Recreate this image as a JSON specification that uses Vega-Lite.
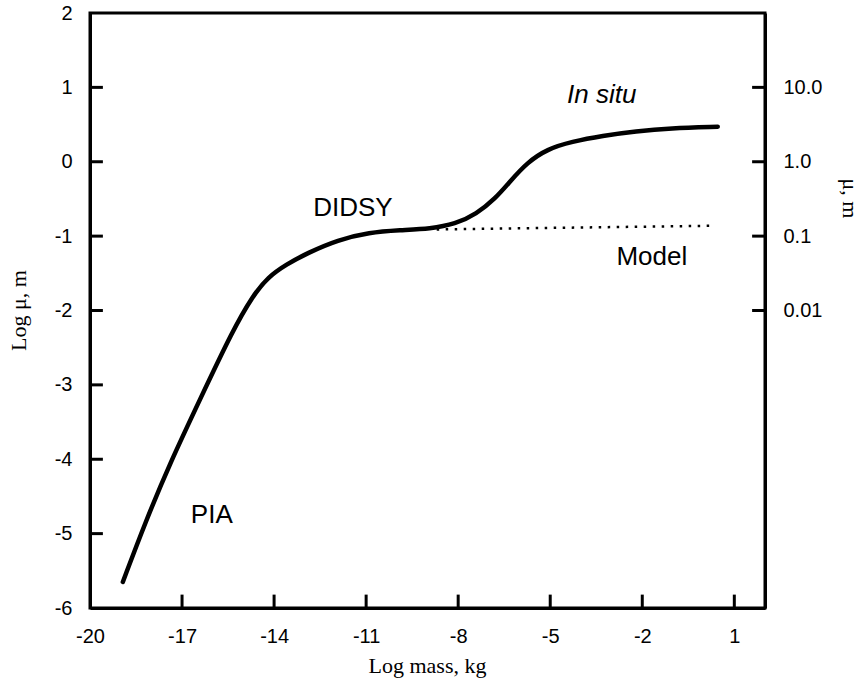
{
  "$schema": "https://vega.github.io/schema/vega-lite/v6.json",
  "autosize": "none",
  "width": 675,
  "height": 595,
  "padding": {"left": 90, "top": 13, "right": 100, "bottom": 76},
  "background": "white",
  "config": {
    "view": {"stroke": "black", "strokeWidth": 3},
    "axis": {
      "labelFont": "Liberation Sans",
      "labelFontSize": 20,
      "labelColor": "black",
      "titleFont": "Liberation Serif",
      "titleFontSize": 22,
      "titleFontWeight": "normal",
      "titleColor": "black",
      "domainColor": "black",
      "domainWidth": 3,
      "ticks": false,
      "labelPadding": 18,
      "grid": false,
      "zindex": 1,
      "labelOverlap": false,
      "labelFlush": false,
      "labelBound": false,
      "labelExpr": "'' + datum.value"
    }
  },
  "datasets": {
    "curve": [
      {"logmass": -18.93, "logmu": -5.65},
      {"logmass": -18.2, "logmu": -4.85},
      {"logmass": -17.39, "logmu": -4.05},
      {"logmass": -16.42, "logmu": -3.2},
      {"logmass": -15.34, "logmu": -2.26},
      {"logmass": -14.69, "logmu": -1.8},
      {"logmass": -14.2, "logmu": -1.55},
      {"logmass": -13.6, "logmu": -1.38},
      {"logmass": -12.93, "logmu": -1.23},
      {"logmass": -11.92, "logmu": -1.05},
      {"logmass": -10.9, "logmu": -0.95},
      {"logmass": -9.9, "logmu": -0.92},
      {"logmass": -8.9, "logmu": -0.9},
      {"logmass": -8.1, "logmu": -0.84},
      {"logmass": -7.4, "logmu": -0.7},
      {"logmass": -6.8, "logmu": -0.5},
      {"logmass": -6.3, "logmu": -0.26},
      {"logmass": -5.75, "logmu": -0.01},
      {"logmass": -5.1, "logmu": 0.17},
      {"logmass": -4.3, "logmu": 0.27},
      {"logmass": -3.3, "logmu": 0.35},
      {"logmass": -2.2, "logmu": 0.41},
      {"logmass": -1.1, "logmu": 0.45},
      {"logmass": 0.46, "logmu": 0.47}
    ],
    "model": [
      {"logmass": -8.7, "logmu": -0.91},
      {"logmass": 0.36, "logmu": -0.86}
    ],
    "labels": [
      {"logmass": -11.43, "logmu": -0.62, "text": "DIDSY", "style": "normal"},
      {"logmass": -1.69, "logmu": -1.28, "text": "Model", "style": "normal"},
      {"logmass": -3.32, "logmu": 0.9, "text": "In situ", "style": "italic"},
      {"logmass": -16.03, "logmu": -4.75, "text": "PIA", "style": "normal"}
    ],
    "bottomTicks": [{"v": -17}, {"v": -14}, {"v": -11}, {"v": -8}, {"v": -5}, {"v": -2}, {"v": 1}],
    "leftTicks": [{"v": -5}, {"v": -4}, {"v": -3}, {"v": -2}, {"v": -1}, {"v": 0}, {"v": 1}],
    "rightTicks": [{"v": 1}, {"v": 0}, {"v": -1}, {"v": -2}]
  },
  "layer": [
    {
      "data": {"name": "curve"},
      "mark": {"type": "line", "color": "black", "strokeWidth": 4.5, "interpolate": "basis", "strokeCap": "round"},
      "encoding": {
        "x": {
          "field": "logmass", "type": "quantitative",
          "scale": {"domain": [-20, 2], "nice": false, "zero": false},
          "axis": {
            "values": [-20, -17, -14, -11, -8, -5, -2, 1],
            "title": "Log mass, kg",
            "titleX": 337, "titleY": 57,
            "titleAlign": "center", "titleBaseline": "middle"
          }
        },
        "y": {
          "field": "logmu", "type": "quantitative",
          "scale": {"domain": [-6, 2], "nice": false, "zero": false},
          "axis": {
            "values": [-6, -5, -4, -3, -2, -1, 0, 1, 2],
            "title": "Log μ, m",
            "titleX": -72, "titleY": 297, "titleAngle": -90,
            "titleAlign": "center", "titleBaseline": "middle"
          }
        }
      }
    },
    {
      "data": {"name": "model"},
      "mark": {"type": "line", "color": "black", "strokeWidth": 2.5, "strokeDash": [2.5, 6.5]},
      "encoding": {
        "x": {"field": "logmass", "type": "quantitative"},
        "y": {
          "field": "logmu", "type": "quantitative",
          "scale": {"domain": [-6, 2], "nice": false, "zero": false},
          "axis": {
            "orient": "right",
            "values": [1, 0, -1, -2],
            "labelExpr": "datum.value == 1 ? '10.0' : datum.value == 0 ? '1.0' : datum.value == -1 ? '0.1' : '0.01'",
            "title": "μ, m",
            "titleX": 84, "titleY": 185, "titleAngle": 90,
            "titleAlign": "center", "titleBaseline": "middle"
          }
        }
      }
    },
    {
      "data": {"name": "labels"},
      "transform": [{"filter": "datum.style == 'normal'"}],
      "mark": {"type": "text", "font": "Liberation Sans", "fontSize": 26, "color": "black", "align": "center", "baseline": "middle"},
      "encoding": {
        "x": {"field": "logmass", "type": "quantitative"},
        "y": {
          "field": "logmu", "type": "quantitative",
          "scale": {"domain": [-6, 2], "nice": false, "zero": false},
          "axis": null
        },
        "text": {"field": "text"}
      }
    },
    {
      "data": {"name": "labels"},
      "transform": [{"filter": "datum.style == 'italic'"}],
      "mark": {"type": "text", "font": "Liberation Sans", "fontSize": 26, "fontStyle": "italic", "color": "black", "align": "center", "baseline": "middle"},
      "encoding": {
        "x": {"field": "logmass", "type": "quantitative"},
        "y": {
          "field": "logmu", "type": "quantitative",
          "scale": {"domain": [-6, 2], "nice": false, "zero": false},
          "axis": null
        },
        "text": {"field": "text"}
      }
    },
    {
      "data": {"name": "bottomTicks"},
      "mark": {"type": "rule", "color": "black", "strokeWidth": 3},
      "encoding": {
        "x": {"field": "v", "type": "quantitative"},
        "y": {
          "datum": -6, "type": "quantitative",
          "scale": {"domain": [-6, 2], "nice": false, "zero": false},
          "axis": null
        },
        "y2": {"datum": -5.82}
      }
    },
    {
      "data": {"name": "leftTicks"},
      "mark": {"type": "rule", "color": "black", "strokeWidth": 3},
      "encoding": {
        "x": {"datum": -20, "type": "quantitative"},
        "x2": {"datum": -19.58},
        "y": {
          "field": "v", "type": "quantitative",
          "scale": {"domain": [-6, 2], "nice": false, "zero": false},
          "axis": null
        }
      }
    },
    {
      "data": {"name": "rightTicks"},
      "mark": {"type": "rule", "color": "black", "strokeWidth": 3},
      "encoding": {
        "x": {"datum": 2, "type": "quantitative"},
        "x2": {"datum": 1.58},
        "y": {
          "field": "v", "type": "quantitative",
          "scale": {"domain": [-6, 2], "nice": false, "zero": false},
          "axis": null
        }
      }
    }
  ],
  "resolve": {"scale": {"y": "independent"}}
}
